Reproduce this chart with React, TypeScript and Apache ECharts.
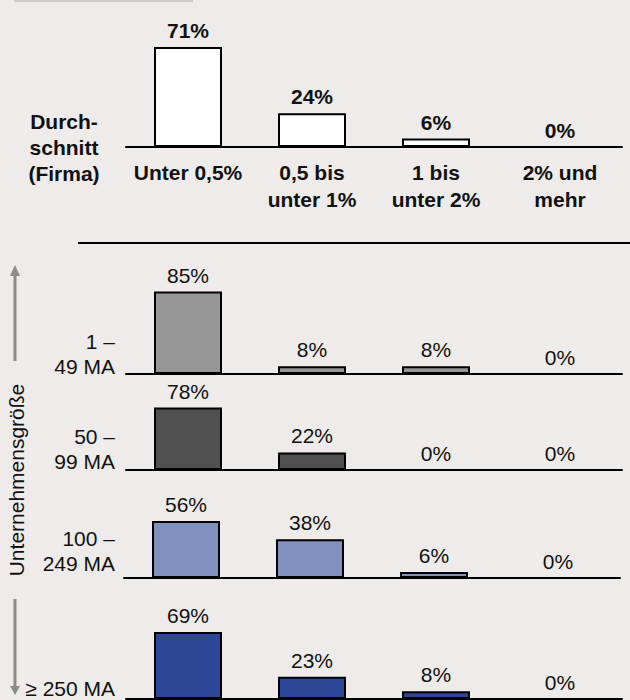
import React, { useEffect, useRef } from "react";
import * as echarts from "echarts";

const categories = ["Unter 0,5%", "0,5 bis\nunter 1%", "1 bis\nunter 2%", "2% und\nmehr"];
const avgValues = [71, 24, 6, 0];
const size1to49 = [85, 8, 8, 0];
const size50to99 = [78, 22, 0, 0];
const size100to249 = [56, 38, 6, 0];
const size250plus = [69, 23, 8, 0];
const avgLabel = "Durch-\nschnitt\n(Firma)";
const panelLabels = ["1 –\n49 MA", "50 –\n99 MA", "100 –\n249 MA", "≥ 250 MA"];
const axisTitle = "Unternehmensgröße";

export default function App() {
  const ref = useRef<HTMLDivElement>(null);
  useEffect(() => {
    if (!ref.current) return;
    const chart = echarts.init(ref.current, null, { renderer: "svg" });
    const font = "Liberation Sans, Arial, sans-serif";
    const fs = 21;
    const grids = [
      { left: 126, width: 496, top: 6, height: 141 },
      { left: 126, width: 496, top: 277, height: 97 },
      { left: 126, width: 496, top: 390, height: 80 },
      { left: 124, width: 496, top: 476, height: 102 },
      { left: 126, width: 496, top: 602, height: 97 },
    ];
    const seriesData = [avgValues, size1to49, size50to99, size100to249, size250plus];
    const colors = ["#ffffff", "#969696", "#505050", "#8190BF", "#2D4696"];
    const panelCenters = [354, 449, 551, 688];
    chart.setOption({
      animation: false,
      backgroundColor: "#EEEBEA",
      grid: grids.map((g) => ({ ...g, outerBoundsMode: "none", containLabel: false })),
      xAxis: grids.map((_, i) => ({
        type: "category",
        gridIndex: i,
        data: categories,
        axisLine: { show: true, lineStyle: { color: "#000", width: 2 } },
        axisTick: { show: false },
        axisLabel: {
          show: i === 0,
          interval: 0,
          fontFamily: font,
          fontWeight: "bold",
          fontSize: fs,
          lineHeight: 27,
          color: "#111",
          margin: 12,
        },
      })),
      yAxis: grids.map((_, i) => ({
        type: "value",
        gridIndex: i,
        min: 0,
        max: 100,
        show: false,
        splitLine: { show: false },
      })),
      series: seriesData.map((vals, i) => ({
        type: "bar",
        xAxisIndex: i,
        yAxisIndex: i,
        barWidth: 68,
        data: vals.map((v) => (v === 0 ? { value: v, itemStyle: { borderWidth: 0 } } : v)),
        itemStyle: { color: colors[i], borderColor: "#000", borderWidth: 2 },
        label: {
          show: true,
          position: "top",
          distance: 6,
          formatter: "{c}%",
          fontFamily: font,
          fontSize: fs,
          fontWeight: i === 0 ? "bold" : "normal",
          color: "#111",
        },
      })),
      graphic: [
        { type: "rect", shape: { x: 14, y: 0, width: 179, height: 2 }, style: { fill: "#CBCBCB" } },
        {
          type: "text",
          x: 64,
          y: 147,
          style: {
            text: avgLabel,
            fontFamily: font,
            fontWeight: "bold",
            fontSize: fs,
            lineHeight: 26,
            fill: "#111",
            textAlign: "center",
            textVerticalAlign: "middle",
          },
        },
        { type: "line", shape: { x1: 78, y1: 243, x2: 630, y2: 243 }, style: { stroke: "#000", lineWidth: 2 } },
        ...panelLabels.map((t, i) => ({
          type: "text",
          x: 115,
          y: panelCenters[i],
          style: {
            text: t,
            fontFamily: font,
            fontSize: fs,
            lineHeight: 25,
            fill: "#111",
            textAlign: "right",
            textVerticalAlign: "middle",
          },
        })),
        {
          type: "text",
          x: 16,
          y: 480,
          rotation: Math.PI / 2,
          style: {
            text: axisTitle,
            fontFamily: font,
            fontSize: fs,
            fill: "#111",
            textAlign: "center",
            textVerticalAlign: "middle",
          },
        },
        { type: "line", shape: { x1: 15, y1: 275, x2: 15, y2: 361 }, style: { stroke: "#8C8C8C", lineWidth: 3 } },
        { type: "polygon", shape: { points: [[10, 276], [20, 276], [15, 265]] }, style: { fill: "#8C8C8C" } },
        { type: "line", shape: { x1: 15, y1: 599, x2: 15, y2: 687 }, style: { stroke: "#8C8C8C", lineWidth: 3 } },
        { type: "polygon", shape: { points: [[10, 686], [20, 686], [15, 695]] }, style: { fill: "#8C8C8C" } },
      ],
    });
    return () => chart.dispose();
  }, []);
  return (
    <div
      ref={ref}
      style={{ position: "absolute", left: 0, top: 0, width: 630, height: 700 }}
    />
  );
}
